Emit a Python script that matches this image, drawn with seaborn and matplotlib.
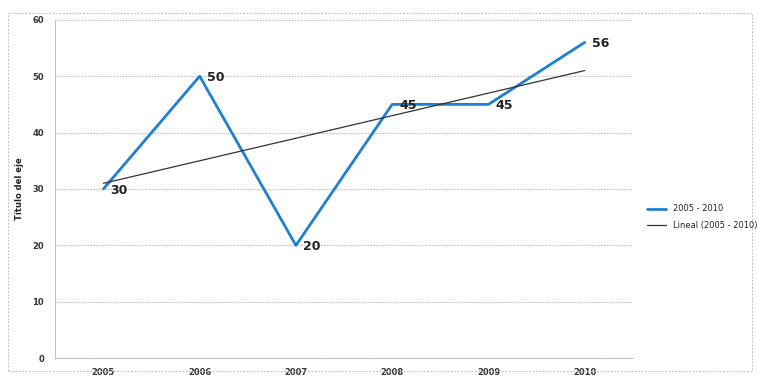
import matplotlib
matplotlib.use("Agg")
import matplotlib.pyplot as plt
import seaborn as sns
import pandas as pd
from matplotlib.patches import Rectangle
from matplotlib.lines import Line2D

years = ["2005", "2006", "2007", "2008", "2009", "2010"]
values = [30, 50, 20, 45, 45, 56]
series_name = "2005 - 2010"
trend_name = "Lineal (2005 - 2010)"
y_ticks = [0, 10, 20, 30, 40, 50, 60]
y_title = "Título del eje"

df = pd.DataFrame({"pos": range(len(years)), "year": years, "value": values})

sns.set_theme(style="white")
plt.rcParams["font.family"] = ["DejaVu Sans"]

fig = plt.figure(figsize=(7.57, 3.81), dpi=100)
ax = fig.add_axes([0.073, 0.060, 0.763, 0.888])

blue = "#1f7fd2"
sns.lineplot(data=df, x="pos", y="value", ax=ax, color=blue, linewidth=2.0,
             label=series_name, legend=False)
sns.regplot(data=df, x="pos", y="value", ax=ax, scatter=False, ci=None,
            color="#333333", line_kws={"linewidth": 0.9}, truncate=True)

for x, v in zip(df["pos"], df["value"]):
    ax.annotate(str(v), (x, v), xytext=(5, -1), textcoords="offset points",
                ha="left", va="center", fontsize=9, fontweight="bold",
                color="#222222")

ax.set_xlim(-0.5, len(years) - 0.5)
ax.set_ylim(0, 60)
ax.set_yticks(y_ticks)
ax.set_xticks(range(len(years)))
ax.set_xticklabels(years)
ax.tick_params(axis="both", length=0, labelsize=6, colors="#333333", pad=8)
ax.tick_params(axis="x", pad=7)
for lab in ax.get_xticklabels() + ax.get_yticklabels():
    lab.set_fontweight("bold")
ax.set_xlabel("")
ax.set_ylabel(y_title, fontsize=6, fontweight="bold", color="#222222", labelpad=6)

ax.yaxis.grid(True, color="#b4b4b4", linestyle=(0, (2, 1.5)), linewidth=0.6)
ax.xaxis.grid(False)
for side in ["top", "right"]:
    ax.spines[side].set_visible(False)
ax.spines["left"].set_color("#c0c0c0")
ax.spines["left"].set_linewidth(0.7)
ax.spines["bottom"].set_color("#a8a8a8")
ax.spines["bottom"].set_linestyle((0, (2, 1.5)))
ax.spines["bottom"].set_linewidth(0.6)

handles = [Line2D([], [], color=blue, linewidth=2.0),
           Line2D([], [], color="#333333", linewidth=0.9)]
fig.legend(handles, [series_name, trend_name], loc="center left",
           bbox_to_anchor=(0.845, 0.43), frameon=False, fontsize=6,
           handlelength=2.3, labelspacing=0.9)

fig.patches.append(Rectangle((0.011, 0.025), 0.982, 0.940, transform=fig.transFigure,
                             fill=False, edgecolor="#c0c0c0", linewidth=0.7,
                             linestyle=(0, (2, 1.5))))

fig.savefig("out.png", dpi=100)
